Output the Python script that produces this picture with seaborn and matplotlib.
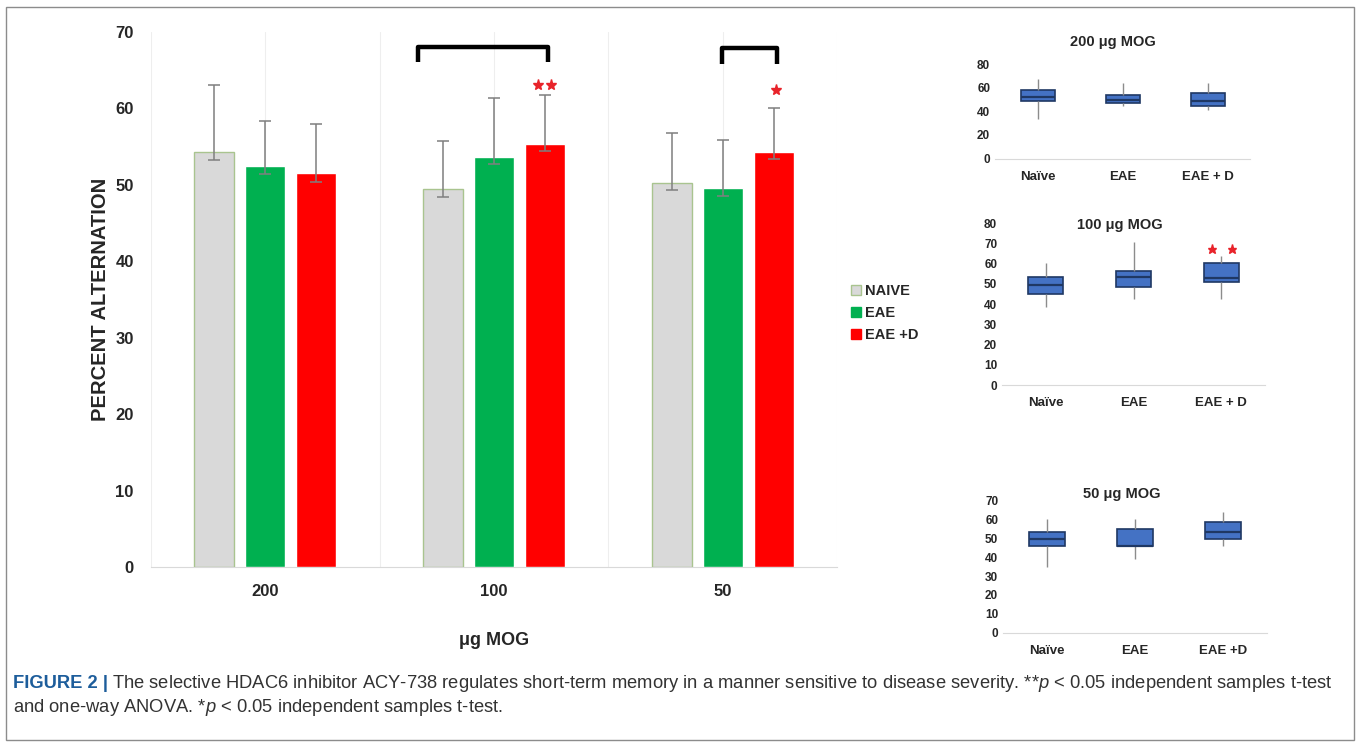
import matplotlib
matplotlib.use("Agg")
import matplotlib.pyplot as plt
from matplotlib.patches import Patch, Rectangle
import seaborn as sns
import pandas as pd
import numpy as np

# main bar chart values
doses = ['200', '100', '50']
groups = ['NAIVE', 'EAE', 'EAE +D']
naive_mean = [54.3, 49.4, 50.3]
eae_mean = [52.5, 53.6, 49.6]
eaed_mean = [51.5, 55.3, 54.3]
# top / bottom end of each error bar
naive_top = [63.0, 55.8, 56.8]
naive_bot = [53.3, 48.4, 49.3]
eae_top = [58.3, 61.3, 55.9]
eae_bot = [51.4, 52.7, 48.6]
eaed_top = [57.9, 61.7, 60.1]
eaed_bot = [50.4, 54.4, 53.4]

# box plot panels: whisker low, q1, median, q3, whisker high
box_cats = ['Naïve', 'EAE', 'EAE + D']
box_cats_50 = ['Naïve', 'EAE', 'EAE +D']
mog200 = [[33.9, 49.2, 52.6, 58.3, 67.4],
          [44.7, 47.5, 49.5, 54.3, 64.0],
          [41.3, 44.7, 49.0, 56.0, 64.0]]
mog100 = [[38.5, 45.0, 49.5, 53.3, 60.5],
          [42.4, 48.7, 53.3, 56.6, 70.9],
          [42.6, 51.1, 53.1, 60.5, 64.0]]
mog50 = [[35.0, 46.1, 49.8, 53.4, 60.1],
         [38.9, 45.8, 46.0, 55.0, 60.3],
         [46.0, 49.7, 53.2, 58.5, 63.8]]

colors = {'NAIVE': '#d9d9d9', 'EAE': '#00b050', 'EAE +D': '#ff0000'}
box_fill = '#4472c4'
box_edge = '#1f3864'

W, H = 1360, 746
fig = plt.figure(figsize=(W / 100, H / 100), dpi=100)
sns.set_style('white')
plt.rcParams['font.family'] = ['Liberation Sans', 'DejaVu Sans']
plt.rcParams['mathtext.fontset'] = 'custom'
plt.rcParams['mathtext.it'] = 'Liberation Sans:italic'
plt.rcParams['mathtext.rm'] = 'Liberation Sans'


def ax_at(x0, x1, y_bottom, y_top):
    # pixel box -> figure fraction
    return fig.add_axes([x0 / W, 1 - y_bottom / H, (x1 - x0) / W, (y_bottom - y_top) / H])


#%% main bar chart
df = pd.DataFrame({
    'dose': doses * 3,
    'group': [g for g in groups for _ in doses],
    'pct': naive_mean + eae_mean + eaed_mean,
})
ax = ax_at(150.5, 837.5, 567, 32)
sns.barplot(data=df, x='dose', y='pct', hue='group', order=doses, hue_order=groups,
            palette=colors, saturation=1, width=0.67, gap=0.22, errorbar=None,
            legend=False, ax=ax, zorder=3)
for bar in ax.containers[0]:
    bar.set_edgecolor('#a9c48f')
    bar.set_linewidth(1.0)

means = [naive_mean, eae_mean, eaed_mean]
tops = [naive_top, eae_top, eaed_top]
bots = [naive_bot, eae_bot, eaed_bot]
for cont, m, t, b in zip(ax.containers, means, tops, bots):
    xs = [p.get_x() + p.get_width() / 2 for p in cont]
    m = np.array(m)
    ax.errorbar(xs, m, yerr=[m - np.array(b), np.array(t) - m], fmt='none',
                ecolor='#7f7f7f', elinewidth=1.1, capsize=4, capthick=1.1, zorder=4)

ax.set_ylim(0, 70)
ax.set_xlim(-0.5, 2.5)
ax.set_yticks(range(0, 71, 10))
ax.set_xticks([-0.5, 0.5, 1.5, 2.5], minor=True)
ax.grid(True, axis='x', which='both', color='#eeeeee', lw=0.8, zorder=0)
ax.grid(False, axis='y')
for s in ['left', 'right', 'top']:
    ax.spines[s].set_visible(False)
ax.spines['bottom'].set_color('#d9d9d9')
ax.tick_params(length=0, labelsize=12)
ax.tick_params(axis='x', pad=12)
ax.tick_params(axis='y', pad=12)
for lab in ax.get_xticklabels() + ax.get_yticklabels():
    lab.set_fontweight('bold')
    lab.set_color('#262626')
ax.set_ylabel('PERCENT ALTERNATION', fontsize=14.5, fontweight='bold', labelpad=4)
ax.set_xlabel('μg MOG', fontsize=13, fontweight='bold', labelpad=24)

# significance marks
ax.plot([0.67, 0.67, 1.236, 1.236], [66.1, 68.1, 68.1, 66.1], color='black', lw=3.2,
        solid_capstyle='butt', clip_on=False, zorder=5)
ax.plot([1.996, 1.996, 2.236, 2.236], [65.8, 67.9, 67.9, 65.8], color='black', lw=3.2,
        solid_capstyle='butt', clip_on=False, zorder=5)
ax.plot([1.19, 1.25], [63.1, 63.1], ls='none', marker='*', ms=8, color='#e8232a', zorder=5)
ax.plot([2.232], [62.4], ls='none', marker='*', ms=8, color='#e8232a', zorder=5)

handles = [Patch(facecolor=colors[g], edgecolor='#a9c48f' if g == 'NAIVE' else colors[g])
           for g in groups]
fig.legend(handles, groups, loc='center left', bbox_to_anchor=(838 / W, 1 - 313 / H),
           frameon=False, handlelength=0.65, handleheight=0.65, handletextpad=0.3,
           labelspacing=0.55, prop={'weight': 'bold', 'size': 10.5})


#%% box plot panels
def box_panel(axb, stats, cats, title, ymax, step, tx, ty):
    bdf = pd.DataFrame({
        'cat': [c for c, s in zip(cats, stats) for _ in s],
        'val': [v for s in stats for v in s],
    })
    sns.boxplot(data=bdf, x='cat', y='val', order=cats, color=box_fill, saturation=1,
                width=0.4, whis=(0, 100), linecolor=box_edge, linewidth=1.2, showcaps=False,
                whiskerprops={'color': '#8c8c8c', 'linewidth': 1.0},
                medianprops={'color': box_edge, 'linewidth': 1.6}, ax=axb)
    axb.set_xlim(-0.5, 2.5)
    axb.set_ylim(0, ymax)
    axb.set_yticks(range(0, ymax + 1, step))
    axb.set_xlabel('')
    axb.set_ylabel('')
    for s in ['left', 'right', 'top']:
        axb.spines[s].set_visible(False)
    axb.spines['bottom'].set_color('#d9d9d9')
    axb.tick_params(length=0, labelsize=8.5)
    axb.tick_params(axis='x', pad=9, labelsize=9.5)
    for lab in axb.get_xticklabels() + axb.get_yticklabels():
        lab.set_fontweight('bold')
        lab.set_color('#262626')
    axb.text(tx, ty, title, transform=axb.transAxes, ha='center', va='center',
             fontsize=10.5, fontweight='bold', color='#262626')


ax1 = ax_at(995, 1250, 158.5, 64.3)
box_panel(ax1, mog200, box_cats, '200 μg MOG', 80, 20, 0.463, 1.237)
ax2 = ax_at(1002, 1265, 385, 223.3)
box_panel(ax2, mog100, box_cats, '100 μg MOG', 80, 10, 0.449, 0.99)
ax2.plot([1.9, 2.12], [67.2, 67.2], ls='none', marker='*', ms=6.5, color='#e8232a')
ax3 = ax_at(1003, 1267, 632.7, 500.7)
box_panel(ax3, mog50, box_cats_50, '50 μg MOG', 70, 10, 0.45, 1.05)

#%% frame and caption
fig.patches.append(Rectangle((6 / W, 1 - 740 / H), 1348 / W, 733 / H, transform=fig.transFigure,
                             fill=False, edgecolor='#8c8c8c', lw=1.0))
cap_size = 13.2
t1 = fig.text(13 / W, 1 - 684 / H, 'FIGURE 2 |', fontsize=cap_size, fontweight='bold',
              color='#1d5d9b', va='center')
fig.canvas.draw()
bb = t1.get_window_extent()
fig.text(bb.x1 / W + 4 / W, 1 - 684 / H,
         'The selective HDAC6 inhibitor ACY-738 regulates short-term memory in a manner sensitive '
         'to disease severity. **$\\it{p}$ < 0.05 independent samples t-test',
         fontsize=cap_size, color='#333333', va='center')
fig.text(13 / W, 1 - 708 / H, 'and one-way ANOVA. *$\\it{p}$ < 0.05 independent samples t-test.',
         fontsize=cap_size, color='#333333', va='center')

fig.savefig('out.png', dpi=100)
